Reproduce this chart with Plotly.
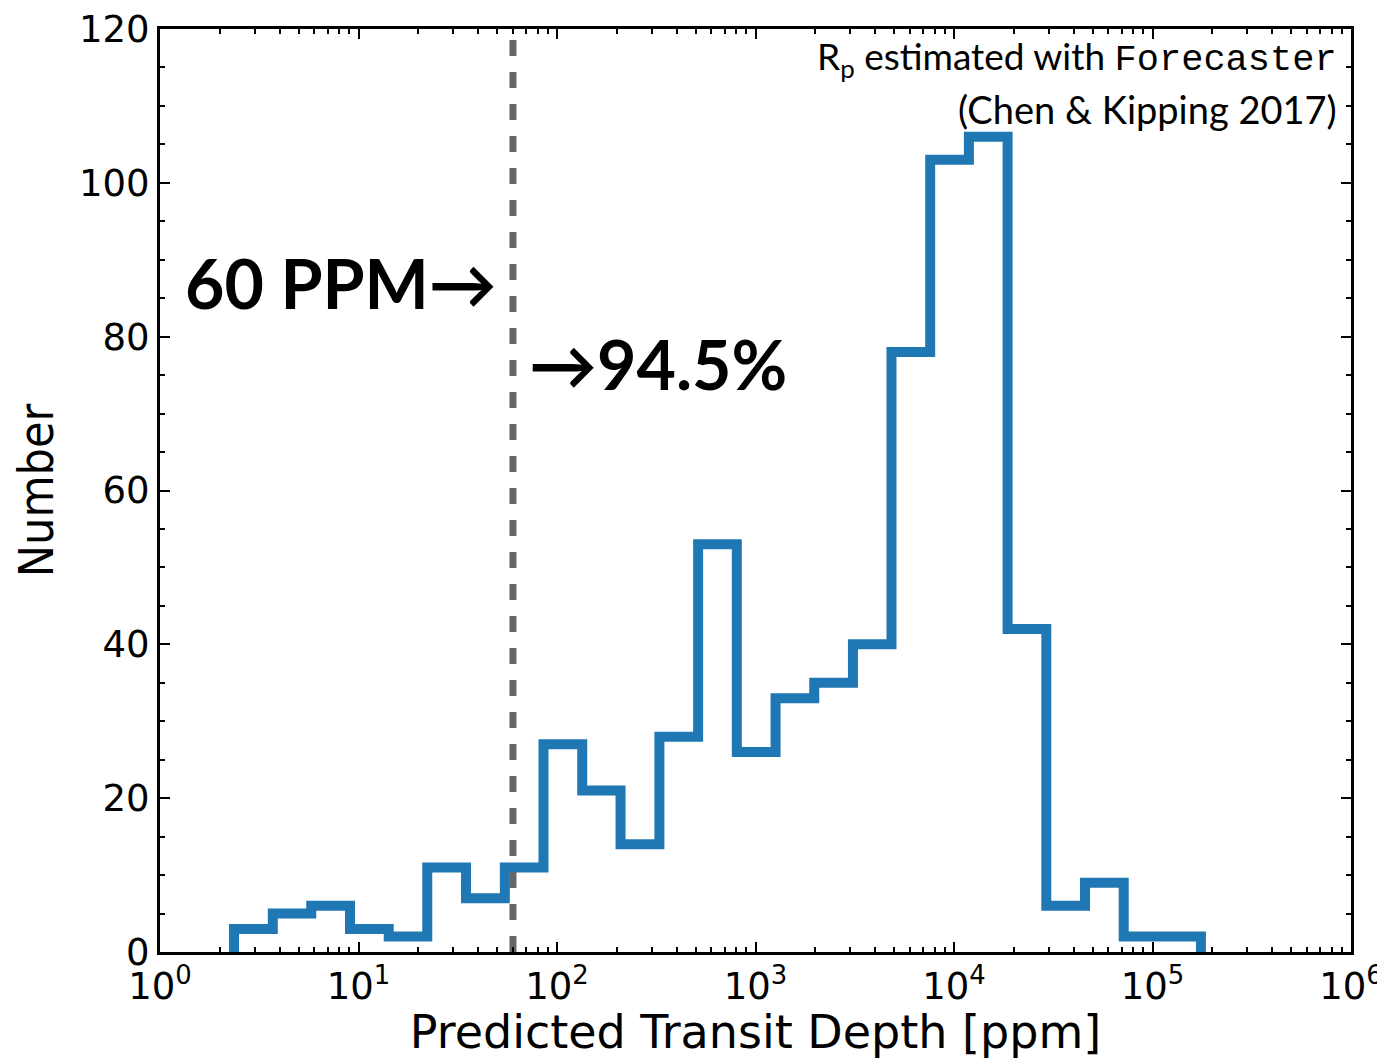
import plotly.graph_objects as go

# Histogram bin edges (ppm) and counts
bin_edges = [2.36, 3.70, 5.78, 9.06, 14.2, 22.2, 34.8, 54.6, 85.5, 134, 209, 328, 514,
             805, 1262, 1977, 3097, 4842, 7586, 11885, 18621, 29174, 45709, 71614,
             112202, 175388]
counts = [3, 5, 6, 3, 2, 11, 7, 11, 27, 21, 14, 28, 53, 26, 33, 35, 40, 78, 103, 106,
          42, 6, 9, 2, 2]

threshold_ppm = 60
y_max = 120

x_tickvals = [1, 10, 100, 1000, 10000, 100000, 1000000]
x_ticktext = ["10<sup>0</sup>", "10<sup>1</sup>", "10<sup>2</sup>", "10<sup>3</sup>",
              "10<sup>4</sup>", "10<sup>5</sup>", "10<sup>6</sup>"]
x_minor = [m * 10 ** k for k in range(6) for m in range(2, 10)]
y_tickvals = [0, 20, 40, 60, 80, 100, 120]
y_minor = [v for v in range(0, 121, 5) if v % 20 != 0]

# step outline points
xs = [bin_edges[0]] + bin_edges + [bin_edges[-1]]
ys = [0] + counts + [counts[-1]] + [0]

fig = go.Figure()
fig.add_trace(go.Scatter(
    x=xs, y=ys, mode="lines", line=dict(shape="hv", color="#1f77b4", width=10),
    showlegend=False, hoverinfo="skip", cliponaxis=False))
fig.add_trace(go.Scatter(
    x=[threshold_ppm, threshold_ppm], y=[0, y_max], mode="lines",
    line=dict(color="#666666", width=7, dash="16px,16px"),
    showlegend=False, hoverinfo="skip"))

axis_common = dict(showline=True, linecolor="black", linewidth=3, mirror="allticks",
                   ticks="inside", tickcolor="black", tickwidth=2, showgrid=False,
                   zeroline=False, automargin=False, ticklabeloverflow="allow")

fig.update_xaxes(type="log", range=[0, 6], tickvals=x_tickvals, ticktext=x_ticktext,
                 ticklen=10,
                 minor=dict(tickvals=x_minor, ticks="inside", ticklen=5,
                            tickcolor="black", tickwidth=1.5),
                 title=dict(text="Predicted Transit Depth [ppm]",
                            font=dict(family="DejaVu Sans", size=46, color="black"),
                            standoff=4),
                 tickfont=dict(family="DejaVu Sans", size=37, color="black"),
                 **axis_common)
fig.update_yaxes(range=[0, y_max], tickvals=y_tickvals, ticklen=10,
                 minor=dict(tickvals=y_minor, ticks="inside", ticklen=5,
                            tickcolor="black", tickwidth=1.5),
                 title=dict(text="Number",
                            font=dict(family="DejaVu Sans Condensed", size=48, color="black"),
                            standoff=18),
                 tickfont=dict(family="DejaVu Sans", size=37, color="black"),
                 **axis_common)

fig.add_annotation(x=1.71, y=87, xref="x", yref="y", text="<b>60 PPM→</b>",
                   showarrow=False, xanchor="right", yanchor="middle",
                   font=dict(family="Lato", size=68, color="black", weight=900))
fig.add_annotation(x=1.85, y=76.5, xref="x", yref="y", text="<b>→94.5%</b>",
                   showarrow=False, xanchor="left", yanchor="middle",
                   font=dict(family="Lato", size=68, color="black", weight=900))
fig.add_annotation(x=0.99, y=0.968, xref="paper", yref="paper",
                   text="R<sub>p</sub> estimated with <span style='font-family:Liberation Mono'>Forecaster</span>",
                   showarrow=False, xanchor="right", yanchor="middle",
                   font=dict(family="Lato", size=37, color="black"))
fig.add_annotation(x=0.99, y=0.913, xref="paper", yref="paper",
                   text="(Chen &amp; Kipping 2017)",
                   showarrow=False, xanchor="right", yanchor="middle",
                   font=dict(family="Lato", size=38, color="black"))

fig.update_layout(width=1377, height=1051, paper_bgcolor="white", plot_bgcolor="white",
                  margin=dict(l=152, r=34, t=21, b=107))

fig.write_html("out.html")
